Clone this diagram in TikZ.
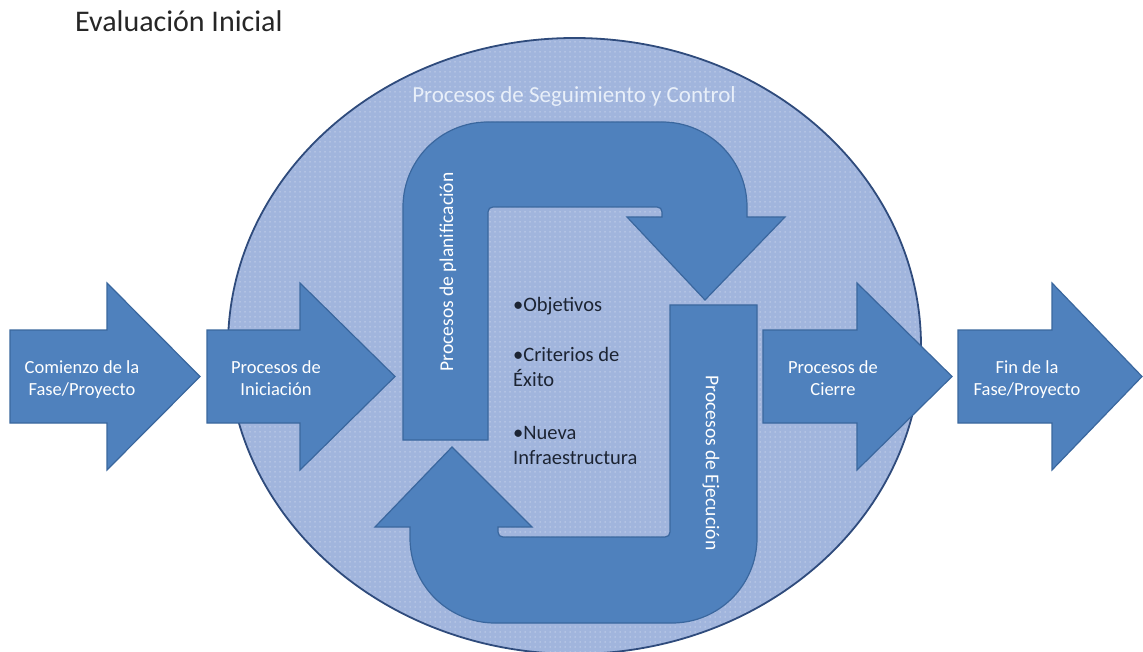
\documentclass[tikz,border=0pt]{standalone}
\usepackage{fontspec}
\setmainfont{Carlito}
\usetikzlibrary{patterns.meta}

\definecolor{arrowblue}{HTML}{4F81BD}
\definecolor{arrowedge}{HTML}{3A679E}
\definecolor{discfill}{HTML}{A1B5DD}
\definecolor{discedge}{HTML}{2F4B7C}
\definecolor{inktext}{HTML}{1C2433}
\definecolor{titletext}{HTML}{262626}
\definecolor{palelabel}{HTML}{E8EFF9}

\tikzset{
  block/.style={fill=arrowblue, draw=arrowedge, line width=1.2pt, line join=miter},
  disc/.style={fill=discfill, draw=discedge, line width=1.8pt},
  % multi-line nodes: the base anchor sits on the last line
  arrowtext/.style={text=white, font=\fontsize{18.5}{22}\selectfont, align=center, inner sep=0pt, anchor=base},
  bartext/.style={text=white, font=\fontsize{19.5}{23}\selectfont, inner sep=0pt},
  bullettext/.style={text=inktext, font=\fontsize{20.5}{25}\selectfont, align=left, anchor=base west, inner sep=0pt},
}

\begin{document}
\begin{tikzpicture}[x=1pt, y=-1pt]
  \useasboundingbox (0,0) rectangle (1143,652);
  \fill[white] (0,0) rectangle (1143,652);

  % title
  \node[text=titletext, font=\fontsize{30}{36}\selectfont, anchor=base west, inner sep=0pt]
    (title) at (75,31.7) {Evaluación Inicial};

  % monitoring and control disc
  \path[disc] (574.5,346) ellipse [x radius=346.5pt, y radius=308pt];
  \fill[pattern={Dots[distance=5pt, radius=0.75pt]}, pattern color=white, fill opacity=0.4]
    (574.5,346) ellipse [x radius=345pt, y radius=306.5pt];
  \node[text=palelabel, font=\fontsize{23}{28}\selectfont, anchor=base, inner sep=0pt]
    (control) at (574,103) {Procesos de Seguimiento y Control};

  % block arrows: body 330..423, head 283..470
  \draw[block] (10,330) -- (107,330) -- (107,283) -- (200,376.5) -- (107,470) -- (107,423) -- (10,423) -- cycle;
  \draw[block] (207,330) -- (300,330) -- (300,283) -- (395,376.5) -- (300,470) -- (300,423) -- (207,423) -- cycle;
  \draw[block] (763,330) -- (857,330) -- (857,283) -- (952,376.5) -- (857,470) -- (857,423) -- (763,423) -- cycle;
  \draw[block] (958,330) -- (1052,330) -- (1052,283) -- (1142,376.5) -- (1052,470) -- (1052,423) -- (958,423) -- cycle;

  \node[arrowtext] (start) at (82,395) {Comienzo de la\\Fase/Proyecto};
  \node[arrowtext] (init)  at (276,395) {Procesos de\\Iniciación};
  \node[arrowtext] (close) at (833,395) {Procesos de\\Cierre};
  \node[arrowtext] (end)   at (1027,395) {Fin de la\\Fase/Proyecto};

  % planning u-turn arrow (up, across, down)
  \draw[block]
    (403,440) -- (403,207)
    .. controls (403,160) and (441,122) .. (488,122)
    -- (662,122)
    .. controls (709,122) and (747,160) .. (747,207)
    -- (747,217) -- (785,217) -- (705,300) -- (627,217) -- (662,217)
    -- (662,212) .. controls (662,209) and (660,207) .. (657,207)
    -- (493,207) .. controls (490,207) and (488,209) .. (488,212)
    -- (488,440) -- cycle;

  % execution u-turn arrow (down, across, up)
  \draw[block]
    (757,305) -- (757,538)
    .. controls (757,585) and (719,623) .. (672,623)
    -- (495,623)
    .. controls (448,623) and (410,585) .. (410,538)
    -- (410,527) -- (375,527) -- (452,447) -- (532,527) -- (498,527)
    -- (498,532) .. controls (498,535) and (500,537) .. (503,537)
    -- (665,537) .. controls (668,537) and (670,535) .. (670,532)
    -- (670,305) -- cycle;

  \node[bartext, rotate=90]  (plan) at (448,272) {Procesos de planificación};
  \node[bartext, rotate=-90] (exec) at (711,463) {Procesos de Ejecución};

  % planning outputs
  \node[bullettext] (goals)    at (513,311.5) {•Objetivos};
  \node[bullettext] (criteria) at (513,386.5) {•Criterios de\\Éxito};
  \node[bullettext] (infra)    at (513,464) {•Nueva\\Infraestructura};
\end{tikzpicture}
\end{document}
